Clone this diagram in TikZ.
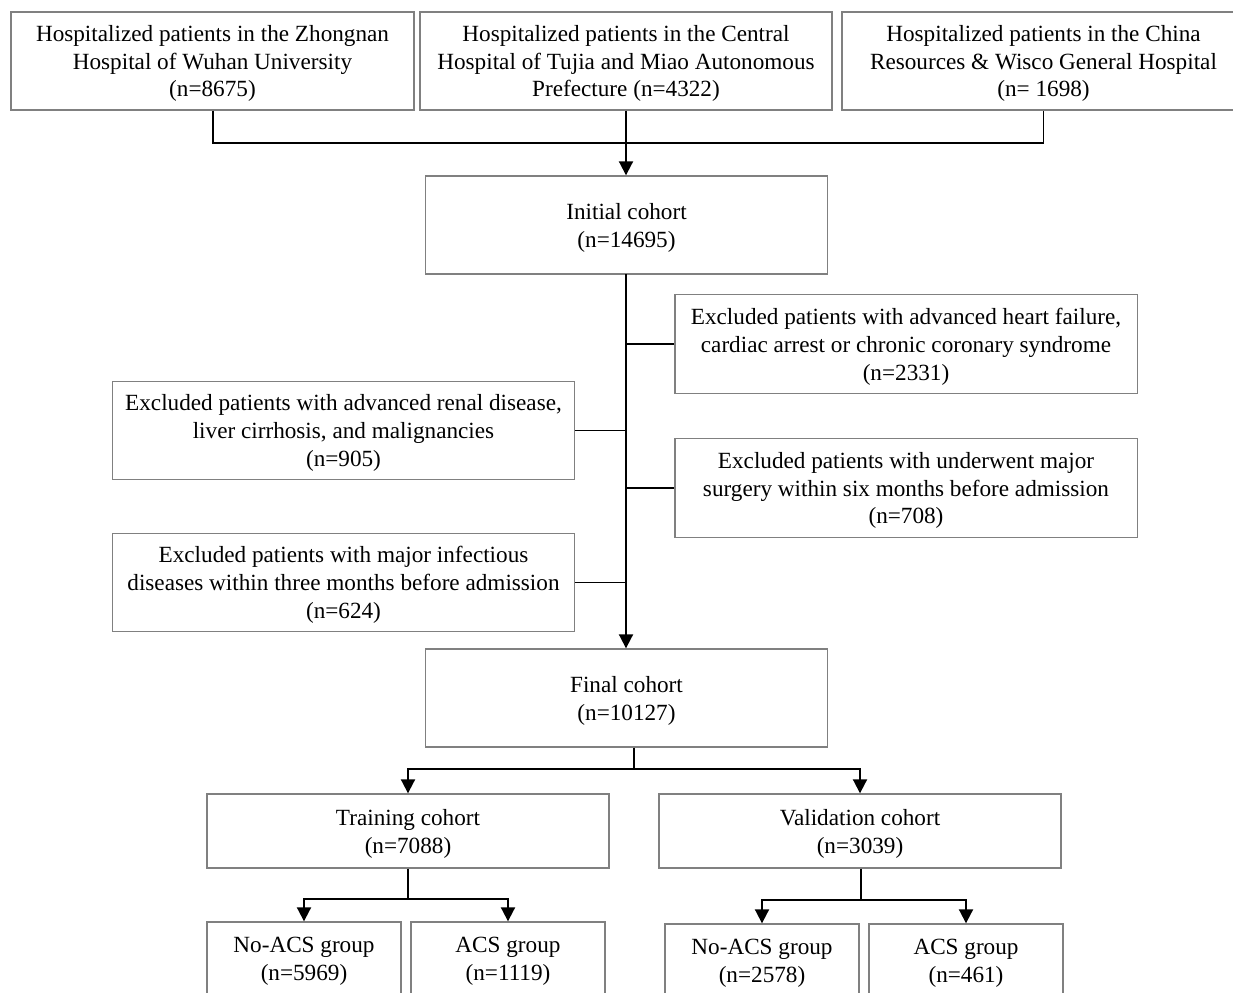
\documentclass[tikz,border=0pt]{standalone}
\usepackage{fontspec}
\setmainfont{Liberation Serif}
\usetikzlibrary{arrows.meta}
\begin{document}
\begin{tikzpicture}[x=0.02cm,y=-0.02cm,
  box/.style={draw=black!50,line width=0.8pt,rectangle,inner sep=0pt,align=center,
    text depth=0pt,font=\fontsize{13.2pt}{15.9pt}\selectfont},
  bigbox/.style={box,minimum width=8.06cm,minimum height=1.96cm},
  exbox/.style={box,minimum width=9.25cm,minimum height=1.97cm},
  midbox/.style={box,minimum width=8.04cm,minimum height=1.48cm},
  smallbox/.style={box,minimum width=3.88cm,minimum height=1.48cm},
  conn/.style={line width=1.1pt,black},
  arr/.style={conn,-{Triangle[width=8pt,length=8pt]}}]
\useasboundingbox (0,0) rectangle (1233,992);
\fill[white] (0,0) rectangle (1233,992);
% top boxes
\node[bigbox] (top1) at (212.5,61) {Hospitalized patients in the Zhongnan\\Hospital of Wuhan University\\(n=8675)};
\node[bigbox,minimum width=8.24cm] (top2) at (626,61) {Hospitalized patients in the Central\\Hospital of Tujia and Miao Autonomous\\Prefecture (n=4322)};
\node[bigbox] (top3) at (1043.5,61) {Hospitalized patients in the China\\Resources \& Wisco General Hospital\\(n= 1698)};
\node[bigbox,minimum width=8.04cm] (init) at (626.5,225) {Initial cohort\\(n=14695)};
% exclusions
\node[exbox] (ex1) at (906,344) {Excluded patients with advanced heart failure,\\cardiac arrest or chronic coronary syndrome\\(n=2331)};
\node[exbox] (ex2) at (343.5,430.5) {Excluded patients with advanced renal disease,\\liver cirrhosis, and malignancies\\(n=905)};
\node[exbox] (ex3) at (906,488) {Excluded patients with underwent major\\surgery within six months before admission\\(n=708)};
\node[exbox] (ex4) at (343.5,582.5) {Excluded patients with major infectious\\diseases within three months before admission\\(n=624)};
\node[bigbox,minimum width=8.04cm] (final) at (626.5,698) {Final cohort\\(n=10127)};
% cohorts
\node[midbox] (train) at (408,831) {Training cohort\\(n=7088)};
\node[midbox] (valid) at (860,831) {Validation cohort\\(n=3039)};
\node[smallbox] (n1) at (304,959) {No-ACS group\\(n=5969)};
\node[smallbox] (a1) at (508,959) {ACS group\\(n=1119)};
\node[smallbox] (n2) at (762,961) {No-ACS group\\(n=2578)};
\node[smallbox] (a2) at (966,961) {ACS group\\(n=461)};
% connectors
\coordinate (j1) at (626,143);
\draw[conn] (top1.south -| 213,0) |- (j1) -| (top3.south);
\draw[arr] (top2.south) -- (top2.south |- init.north);
\coordinate (m0) at (626,274);
\draw[arr] (m0) -- (m0 |- final.north);
\draw[conn] (ex1.west) -- (ex1.west -| m0);
\draw[conn] (ex2.east) -- (ex2.east -| m0);
\draw[conn] (ex3.west) -- (ex3.west -| m0);
\draw[conn] (ex4.east) -- (ex4.east -| m0);
\coordinate (f1) at (634,769);
\draw[conn] (f1 |- final.south) -- (f1);
\draw[arr] (f1) -| (train.north);
\draw[arr] (f1) -| (valid.north);
\coordinate (t1) at (408,899);
\draw[conn] (train.south) -- (t1);
\draw[arr] (t1) -| (n1.north);
\draw[arr] (t1) -| (a1.north);
\coordinate (v1) at (861,900);
\draw[conn] (v1 |- valid.south) -- (v1);
\draw[arr] (v1) -| (n2.north);
\draw[arr] (v1) -| (a2.north);
\end{tikzpicture}
\end{document}
